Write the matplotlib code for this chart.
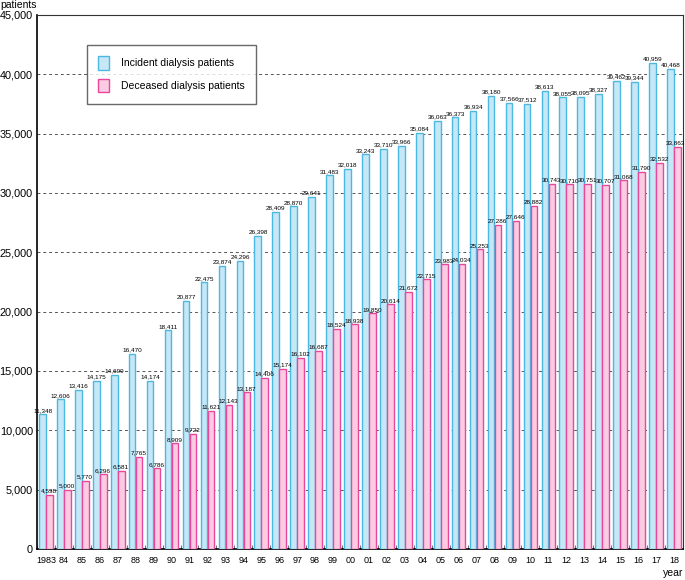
import matplotlib.pyplot as plt
import numpy as np
from matplotlib.patches import Patch

years = ["1983", "84", "85", "86", "87", "88", "89", "90", "91", "92", "93", "94",
         "95", "96", "97", "98", "99", "00", "01", "02", "03", "04", "05", "06",
         "07", "08", "09", "10", "11", "12", "13", "14", "15", "16", "17", "18"]
incident = [11348, 12606, 13416, 14175, 14699, 16470, 14174, 18411, 20877, 22475,
            23874, 24296, 26398, 28409, 28870, 29641, 31483, 32018, 33243, 33710,
            33966, 35084, 36063, 36373, 36934, 38180, 37566, 37512, 38613, 38055,
            38095, 38327, 39462, 39344, 40959, 40468]
deceased = [4538, 5000, 5770, 6296, 6581, 7765, 6786, 8909, 9722, 11621,
            12143, 13187, 14406, 15174, 16102, 16687, 18524, 18938, 19850, 20614,
            21672, 22715, 23983, 24034, 25253, 27286, 27646, 28882, 30743, 30710,
            30751, 30707, 31068, 31790, 32532, 33863]

blue_fill, blue_edge = "#c6e7f6", "#4cb9e2"
pink_fill, pink_edge = "#fbcbe2", "#e8489c"

plt.rcParams['font.family'] = ['Liberation Sans', 'DejaVu Sans']

fig = plt.figure(figsize=(6.85, 5.8), dpi=100)
ax = fig.add_axes([0.054, 0.0534, 0.943, 0.921])

x = np.arange(len(years))
w = 0.37
ax.bar(x - w / 2 - 0.01, incident, w, color=blue_fill, edgecolor=blue_edge, linewidth=1.0, zorder=3)
ax.bar(x + w / 2 + 0.01, deceased, w, color=pink_fill, edgecolor=pink_edge, linewidth=1.0, zorder=3)

for i in range(len(years)):
    ax.text(x[i] - w / 2, incident[i] + 120, f"{incident[i]:,}", ha="center", va="bottom",
            fontsize=4.6, zorder=4)
    # the last label is pulled in so it stays inside the frame
    dx = -0.12 if i == len(years) - 1 else 0
    ax.text(x[i] + w / 2 + dx, deceased[i] + 120, f"{deceased[i]:,}", ha="center", va="bottom",
            fontsize=4.6, zorder=4)

ax.set_xlim(-0.5, len(years) - 0.5)
ax.set_ylim(0, 45000)
ax.set_yticks(range(0, 45001, 5000))
ax.set_yticklabels([f"{v:,}" for v in range(0, 45001, 5000)], fontsize=7.8)
ax.set_xticks(x)
ax.set_xticklabels(years, fontsize=6.5)
ax.tick_params(axis="x", length=0, pad=5)
ax.set_xticks(np.arange(-0.5, len(years), 1), minor=True)
ax.tick_params(axis="x", which="minor", direction="in", length=3, color="#555555")
ax.tick_params(axis="y", length=0, pad=3)
ax.yaxis.grid(True, linestyle=(0, (3, 3)), color="#555555", linewidth=0.7, zorder=0)
ax.set_axisbelow(True)

for s in ["top", "right"]:
    ax.spines[s].set_linewidth(0.8)
    ax.spines[s].set_color("#333333")
ax.spines["left"].set_linewidth(1.2)
ax.spines["bottom"].set_linewidth(1.2)

fig.text(0.0, 0.983, "patients", fontsize=7.5, ha="left", va="bottom")
fig.text(0.998, 0.003, "year", fontsize=7.5, ha="right", va="bottom")

handles = [Patch(facecolor=blue_fill, edgecolor=blue_edge, label="Incident dialysis patients"),
           Patch(facecolor=pink_fill, edgecolor=pink_edge, label="Deceased dialysis patients")]
leg = ax.legend(handles=handles, loc="upper left", bbox_to_anchor=(0.077, 0.944),
                borderaxespad=0, frameon=True, fancybox=False, handlelength=1.0,
                handleheight=1.6, labelspacing=0.9, borderpad=1.1, handletextpad=1.2,
                prop={'size': 7.5})
leg.get_frame().set_edgecolor("#444444")
leg.get_frame().set_linewidth(1.0)

fig.savefig("out.png", dpi=100)
